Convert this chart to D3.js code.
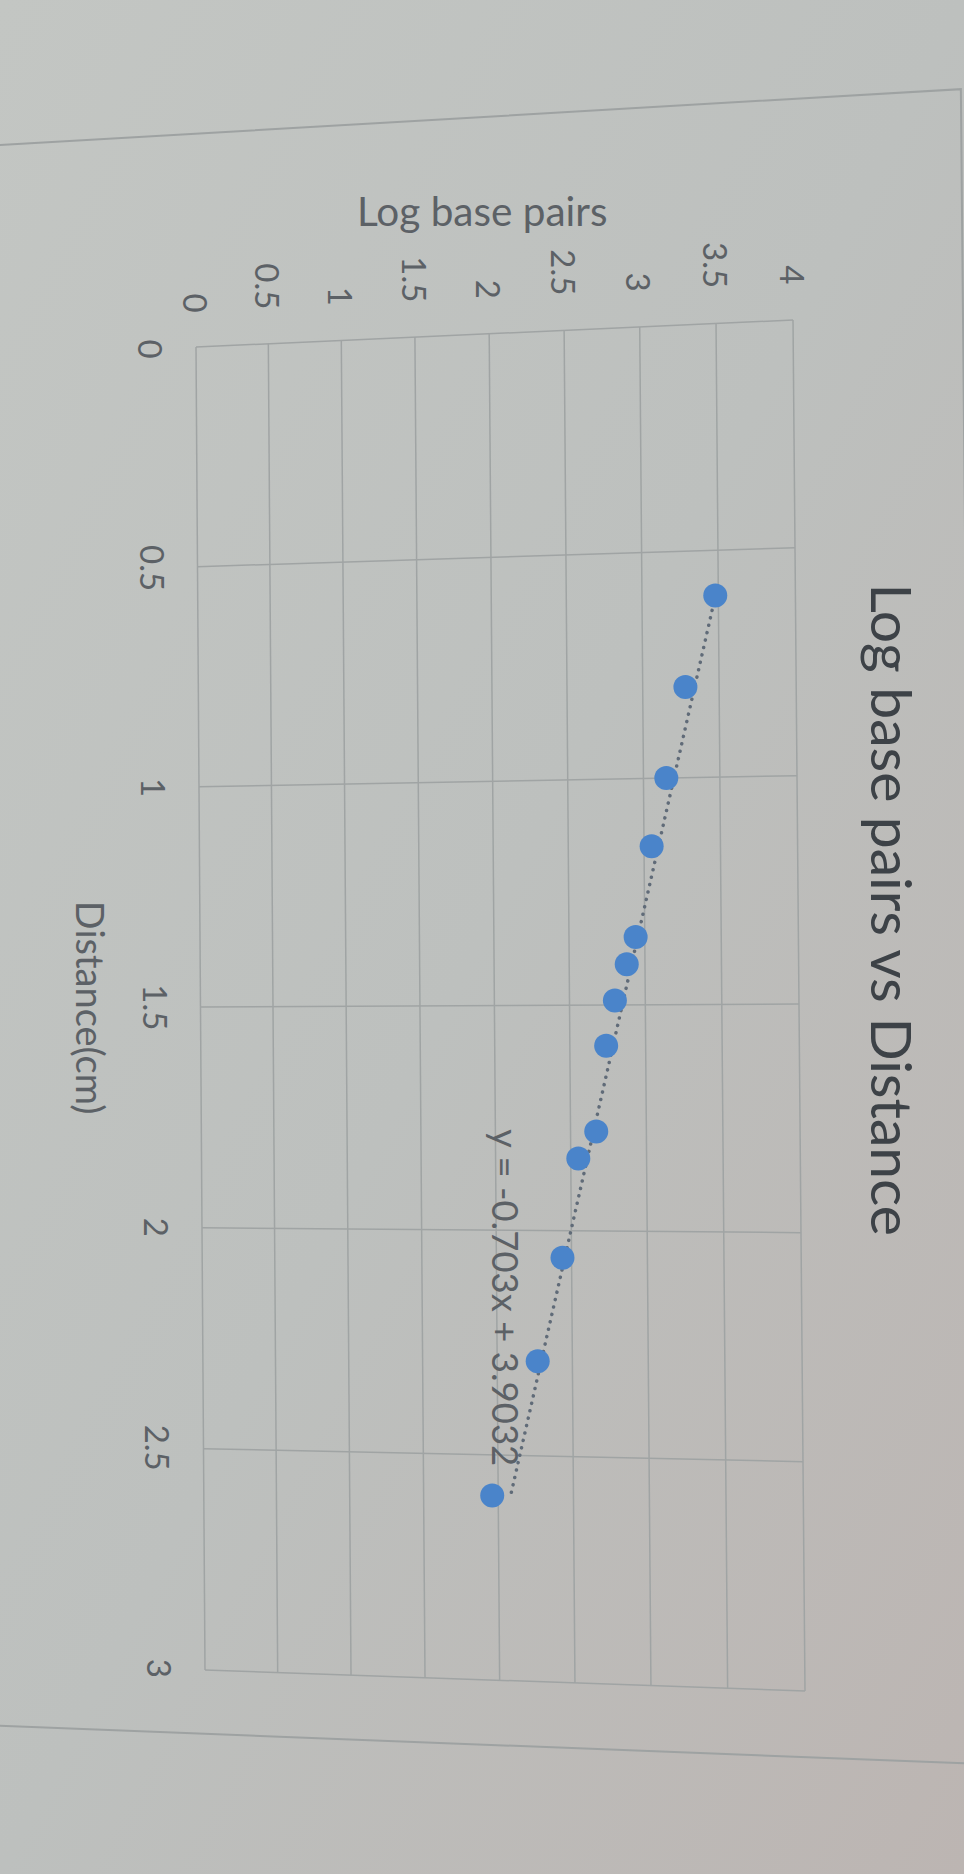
<!DOCTYPE html>
<html><head><meta charset="utf-8">
<script src="https://cdn.jsdelivr.net/npm/d3@7"></script>
<style>html,body{margin:0;padding:0;background:#bcbfbd;} svg{display:block}</style>
</head><body>
<svg id="c" width="964" height="1874"></svg>
<script>
// ---- data ----
const distanceCm   = [0.60, 0.80, 1.00, 1.15, 1.35, 1.41, 1.49, 1.59, 1.78, 1.84, 2.06, 2.29, 2.59];
const logBasePairs = [3.48, 3.28, 3.15, 3.05, 2.94, 2.88, 2.80, 2.74, 2.67, 2.55, 2.44, 2.27, 1.96];
const xTicks = [0, 0.5, 1, 1.5, 2, 2.5, 3];
const yTicks = [0, 0.5, 1, 1.5, 2, 2.5, 3, 3.5, 4];
const trendSlope = -0.703;
const trendIntercept = 3.9032;
const chartTitle = "Log base pairs vs Distance";
const xAxisTitle = "Distance(cm)";
const yAxisTitle = "Log base pairs";
const equationText = "y = -0.703x + 3.9032";

// ---- scales (chart space, unit square) ----
const x = d3.scaleLinear().domain([0, 3]).range([0, 1]);
const y = d3.scaleLinear().domain([0, 4]).range([0, 1]);

// photographed screen: chart rotated 90deg clockwise, with perspective.
// projective map of unit square (s = distance fraction, t = log bp fraction)
const Q = [[196, 347], [205, 1670], [805, 1691], [793, 320]]; // (0,0),(1,0),(1,1),(0,1)
const H = (() => {
  const [[x0,y0],[x1,y1],[x2,y2],[x3,y3]] = Q;
  const dx1 = x1 - x2, dx2 = x3 - x2, dx3 = x0 - x1 + x2 - x3;
  const dy1 = y1 - y2, dy2 = y3 - y2, dy3 = y0 - y1 + y2 - y3;
  const den = dx1 * dy2 - dx2 * dy1;
  const g = (dx3 * dy2 - dx2 * dy3) / den;
  const h = (dx1 * dy3 - dx3 * dy1) / den;
  return {a: x1 - x0 + g * x1, b: x3 - x0 + h * x3, c: x0,
          d: y1 - y0 + g * y1, e: y3 - y0 + h * y3, f: y0, g, h};
})();
function P(s, t) {
  const w = H.g * s + H.h * t + 1;
  return [(H.a * s + H.b * t + H.c) / w, (H.d * s + H.e * t + H.f) / w];
}

const svg = d3.select("#c");
const defs = svg.append("defs");
const grad = defs.append("linearGradient").attr("id", "bg")
  .attr("x1", 0).attr("y1", 0).attr("x2", 1).attr("y2", 1);
grad.append("stop").attr("offset", 0).attr("stop-color", "#c3c6c3");
grad.append("stop").attr("offset", 0.5).attr("stop-color", "#bdc0be");
grad.append("stop").attr("offset", 1).attr("stop-color", "#bcb5b2");
svg.append("rect").attr("width", 964).attr("height", 1874).attr("fill", "url(#bg)");

const lineGen = d3.line();

// chart area frame
const frame = [[-0.162, -0.36], [-0.162, 1.272], [1.048, 1.272], [1.048, -0.36]];
svg.append("path").attr("d", lineGen(frame.map(p => P(p[0], p[1]))))
  .attr("fill", "none").attr("stroke", "#9ea2a2").attr("stroke-width", 2);

// gridlines
const grid = svg.append("g").attr("stroke", "#a0a4a4").attr("stroke-width", 1.5);
xTicks.forEach(v => {
  grid.append("path").attr("d", lineGen([P(x(v), 0), P(x(v), 1)]));
});
yTicks.forEach(v => {
  grid.append("path").attr("d", lineGen([P(0, y(v)), P(1, y(v))]));
});

const font = "Lato, 'Open Sans', sans-serif";

// y tick labels (rotated, end aligned near plot)
yTicks.forEach(v => {
  const [px, py] = P(-0.026, y(v));
  svg.append("text").attr("x", px).attr("y", py)
    .attr("transform", `rotate(90 ${px} ${py})`)
    .attr("text-anchor", "end").attr("dominant-baseline", "central")
    .attr("font-family", font).attr("font-size", 33).attr("fill", "#5c6166")
    .text(String(v));
});
// x tick labels
xTicks.forEach(v => {
  const [px, py] = P(x(v), -0.078);
  svg.append("text").attr("x", px).attr("y", py)
    .attr("transform", `rotate(90 ${px} ${py})`)
    .attr("text-anchor", "middle").attr("dominant-baseline", "central")
    .attr("font-family", font).attr("font-size", 33).attr("fill", "#5c6166")
    .text(String(v));
});

// axis titles
{
  const [px, py] = P(-0.092, 0.49);
  svg.append("text").attr("x", px).attr("y", py)
    .attr("text-anchor", "middle").attr("dominant-baseline", "central")
    .attr("font-family", font).attr("font-size", 40.5).attr("fill", "#5c6166")
    .text(yAxisTitle);
}
{
  const [px, py] = P(0.5, -0.19);
  svg.append("text").attr("x", px).attr("y", py)
    .attr("transform", `rotate(90 ${px} ${py})`)
    .attr("text-anchor", "middle").attr("dominant-baseline", "central")
    .attr("font-family", font).attr("font-size", 38).attr("fill", "#5c6166")
    .text(xAxisTitle);
}
// chart title
{
  const [px, py] = P(0.432, 1.152);
  svg.append("text").attr("x", px).attr("y", py)
    .attr("transform", `rotate(90 ${px} ${py})`)
    .attr("text-anchor", "middle").attr("dominant-baseline", "central")
    .attr("font-family", font).attr("font-size", 57).attr("fill", "#3d4247")
    .text(chartTitle);
}

// trendline (dotted)
const d0 = d3.min(distanceCm), d1 = d3.max(distanceCm);
svg.append("path")
  .attr("d", lineGen([d0, d1].map(d => P(x(d), y(trendSlope * d + trendIntercept)))))
  .attr("fill", "none").attr("stroke", "#606b78").attr("stroke-width", 3.5)
  .attr("stroke-dasharray", "0.1 7.5").attr("stroke-linecap", "round");

// markers
svg.append("g").selectAll("circle").data(distanceCm).join("circle")
  .attr("cx", (d, i) => P(x(d), y(logBasePairs[i]))[0])
  .attr("cy", (d, i) => P(x(d), y(logBasePairs[i]))[1])
  .attr("r", 12).attr("fill", "#4a84ca");

// equation label
{
  const [px, py] = P(x(2.15), y(2.06));
  svg.append("text").attr("x", px).attr("y", py)
    .attr("transform", `rotate(90 ${px} ${py})`)
    .attr("text-anchor", "middle").attr("dominant-baseline", "central")
    .attr("font-family", font).attr("font-size", 36.5).attr("fill", "#5c6166")
    .text(equationText);
}
</script>
</body></html>
